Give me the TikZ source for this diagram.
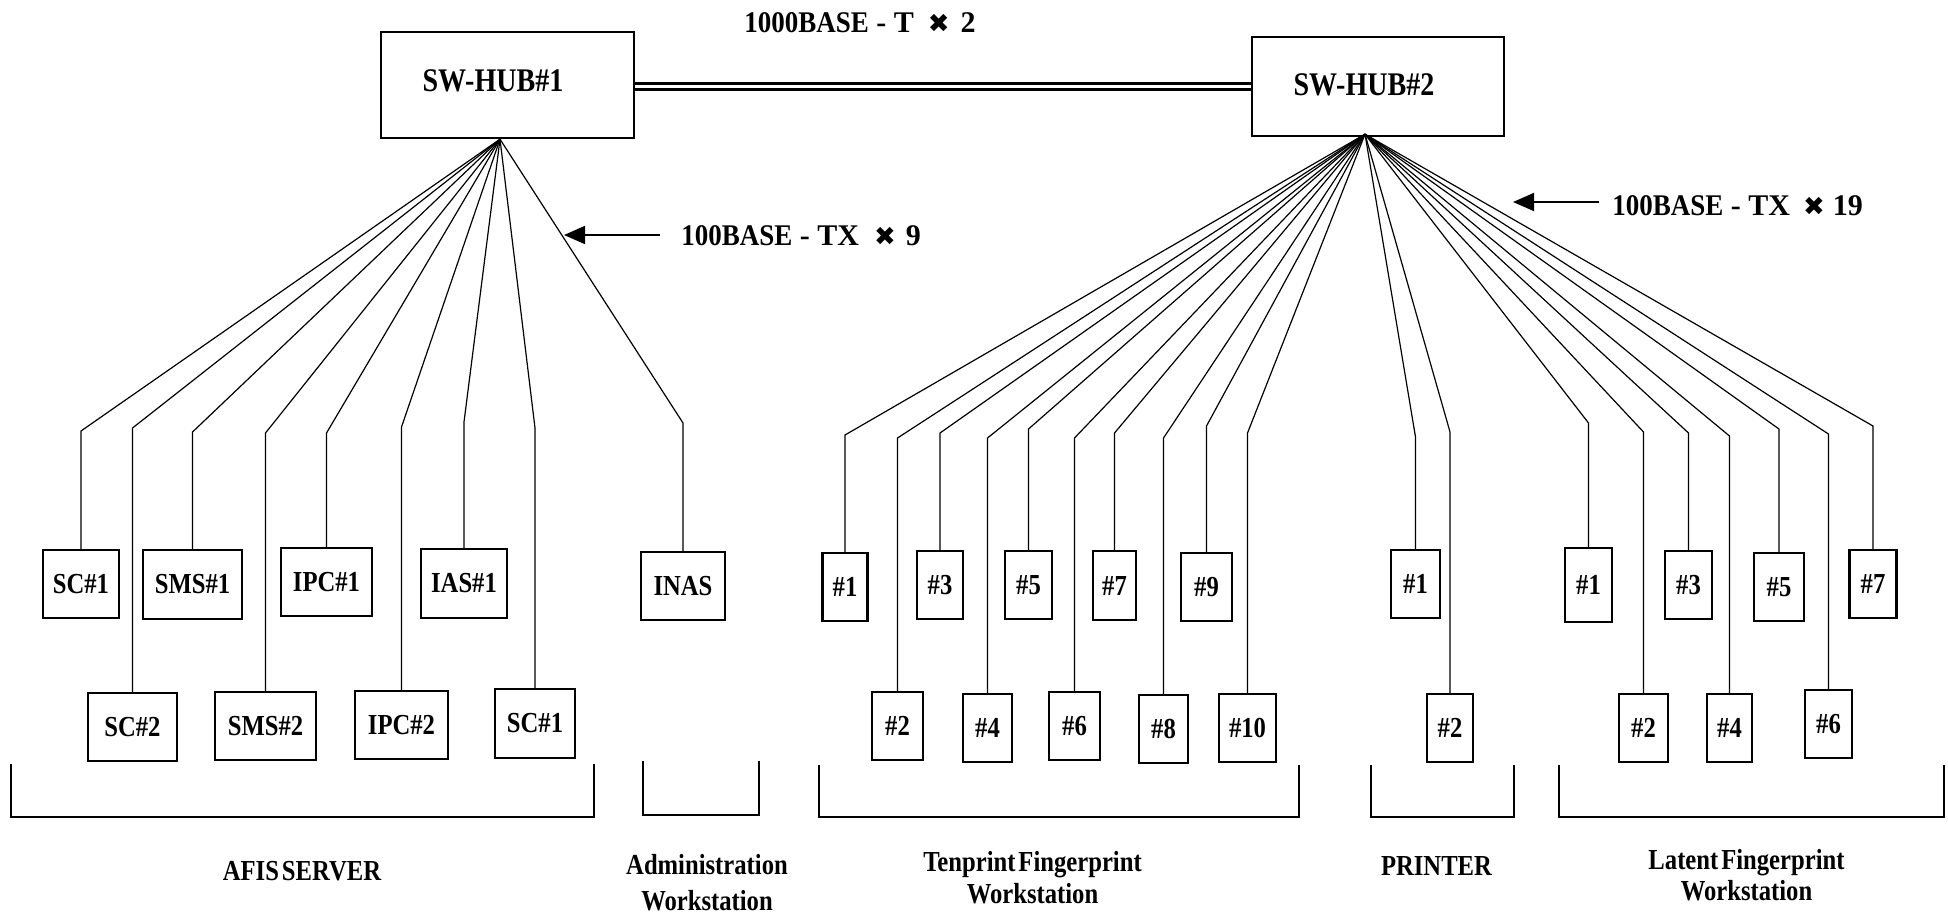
\documentclass[tikz,border=0pt]{standalone}
\usepackage{fontspec}
\usepackage{graphicx}
\setmainfont{Liberation Serif}[FakeStretch=0.85]
\newfontfamily\wideserif{Liberation Serif}
\newfontfamily\narrowserif{Liberation Serif}[FakeStretch=0.9]
\newfontfamily\crossfont{DejaVu Sans}
\usetikzlibrary{arrows.meta}
\newcommand\timesx{{\crossfont\fontsize{13}{14}\selectfont ✖}}
\begin{document}
\begin{tikzpicture}[x=0.5pt,y=-0.5pt,
  wire/.style={line width=0.6pt},
  box/.style={draw, line width=1.2pt, inner sep=0pt,
    font=\fontsize{14.5}{16}\selectfont\bfseries},
  hub/.style={draw, line width=1.2pt, inner sep=0pt,
    font=\fontsize{16.5}{18}\selectfont\bfseries},
  wh/.style 2 args={minimum width=#1*0.5pt, minimum height=#2*0.5pt},
  brk/.style={line width=1pt},
  grp/.style={font=\fontsize{14.5}{16.5}\selectfont\bfseries, align=center,
    inner sep=0pt, anchor=base},
  rate/.style={font=\wideserif\fontsize{15}{17}\selectfont\bfseries, inner sep=0pt,
    anchor=base west},
  pointer/.style={line width=0.9pt, -{Triangle[length=10.5pt,width=9pt]}}]
\useasboundingbox (0,0) rectangle (1948,917);

% switching hubs and the gigabit trunk between them
\node[hub, wh={253}{106}] (hub1) at (507.5,85)
  {\raisebox{4.5pt}{SW-HUB\#1}\hspace*{14.5pt}};
\node[hub, wh={252}{99}] (hub2) at (1378,86.5)
  {\raisebox{2.25pt}{SW-HUB\#2}\hspace*{14pt}};
\draw[line width=1.35pt, double distance=1.35pt]
  ([yshift=-0.75pt]hub1.east) -- ([yshift=-0.75pt]hub1.east -| hub2.west);
\node[rate] (trunk) at (744,32)
  {{\narrowserif 1000BASE} - T\hspace{7pt}\timesx\hspace{5.5pt}2};

% fan-out points under each hub
\coordinate (h1) at ([xshift=-3.75pt]hub1.south);
\coordinate (h2) at ([shift={(-6.5pt,1.5pt)}]hub2.south);

% AFIS server and administration workstation on hub 1
\foreach \n/\cx/\cy/\w/\h/\ky/\t in {
    sca/81/584/76/68/431/SC\#1,
    smsa/192.5/584.5/99/69/432/SMS\#1,
    ipca/326.5/582/91/68/433/IPC\#1,
    iasa/464/583.5/86/69/422/IAS\#1,
    inas/683/586/84/68/423/INAS,
    scb/132.5/727/89/68/428/SC\#2,
    smsb/265.5/726/101/68/433/SMS\#2,
    ipcb/401.5/725/93/68/427/IPC\#2,
    scc/535/723.5/80/69/428/SC\#1} {
  \node[box, wh={\w}{\h}] (\n) at (\cx,\cy) {\t};
  \draw[wire] (h1) -- (\n.north |- 0,\ky) -- (\n.north);
}

% tenprint, printer and latent workstations on hub 2
\foreach \n/\cx/\cy/\w/\h/\ky/\t in {
    t1/845/587/45/68/435/\#1,
    t2/897.5/726/51/68/438/\#2,
    t3/940/585/46/68/433/\#3,
    t4/987.5/728/49/68/438/\#4,
    t5/1028.5/585/47/68/429/\#5,
    t6/1074.5/726/51/68/438/\#6,
    t7/1114.5/585.5/43/69/433/\#7,
    t8/1163.5/729/49/68/438/\#8,
    t9/1206.5/587/51/68/426/\#9,
    t10/1247.5/728/57/68/433/\#10,
    p1/1415.5/584/49/68/437/\#1,
    p2/1450/728/46/68/432/\#2,
    l1/1588.5/585/47/74/423/\#1,
    l2/1643.5/728/49/68/432/\#2,
    l3/1688.5/585/47/68/433/\#3,
    l4/1729.5/728/45/68/436/\#4,
    l5/1779/587/50/68/429/\#5,
    l6/1828.5/724/47/68/434/\#6,
    l7/1873/584/47/68/426/\#7} {
  \node[box, wh={\w}{\h}] (\n) at (\cx,\cy) {\t};
  \draw[wire] (h2) -- (\n.north |- 0,\ky) -- (\n.north);
}

% link-count annotations
\node[rate] (fast1) at (681,245)
  {{\narrowserif 100BASE} - TX\hspace{7.5pt}\timesx\hspace{5pt}9};
\coordinate (tip1) at (564,235);
\draw[pointer] ([shift={(-10.5pt,5pt)}]fast1.base west) -- (tip1);
\node[rate] (fast2) at (1612,215)
  {{\narrowserif 100BASE} - TX\hspace{6.5pt}\timesx\hspace{4pt}19};
\coordinate (tip2) at (1513,202);
\draw[pointer] ([shift={(-6.5pt,6.5pt)}]fast2.base west) -- (tip2);

% group brackets
\draw[brk] (11,764) |- (594,817) -- (594,764);
\draw[brk] (643,761) |- (759,815) -- (759,761);
\draw[brk] (819,765) |- (1299,817) -- (1299,765);
\draw[brk] (1371,765) |- (1514,817) -- (1514,765);
\draw[brk] (1559,765) |- (1944,817) -- (1944,765);

% group names (base anchor sits on the last line)
\node[grp] (gafis) at (302,880) {AFIS\hspace{1.5pt}SERVER};
\node[grp] (gadm) at (707,910) {Administration\\[1.5pt]Workstation};
\node[grp] (gten) at (1032.5,903) {Tenprint\hspace{1.5pt}Fingerprint\\[-0.5pt]Workstation};
\node[grp] (gprn) at (1436.5,875) {PRINTER};
\node[grp] (glat) at (1746.5,900) {Latent\hspace{1.5pt}Fingerprint\\[-1pt]Workstation};
\end{tikzpicture}
\end{document}
